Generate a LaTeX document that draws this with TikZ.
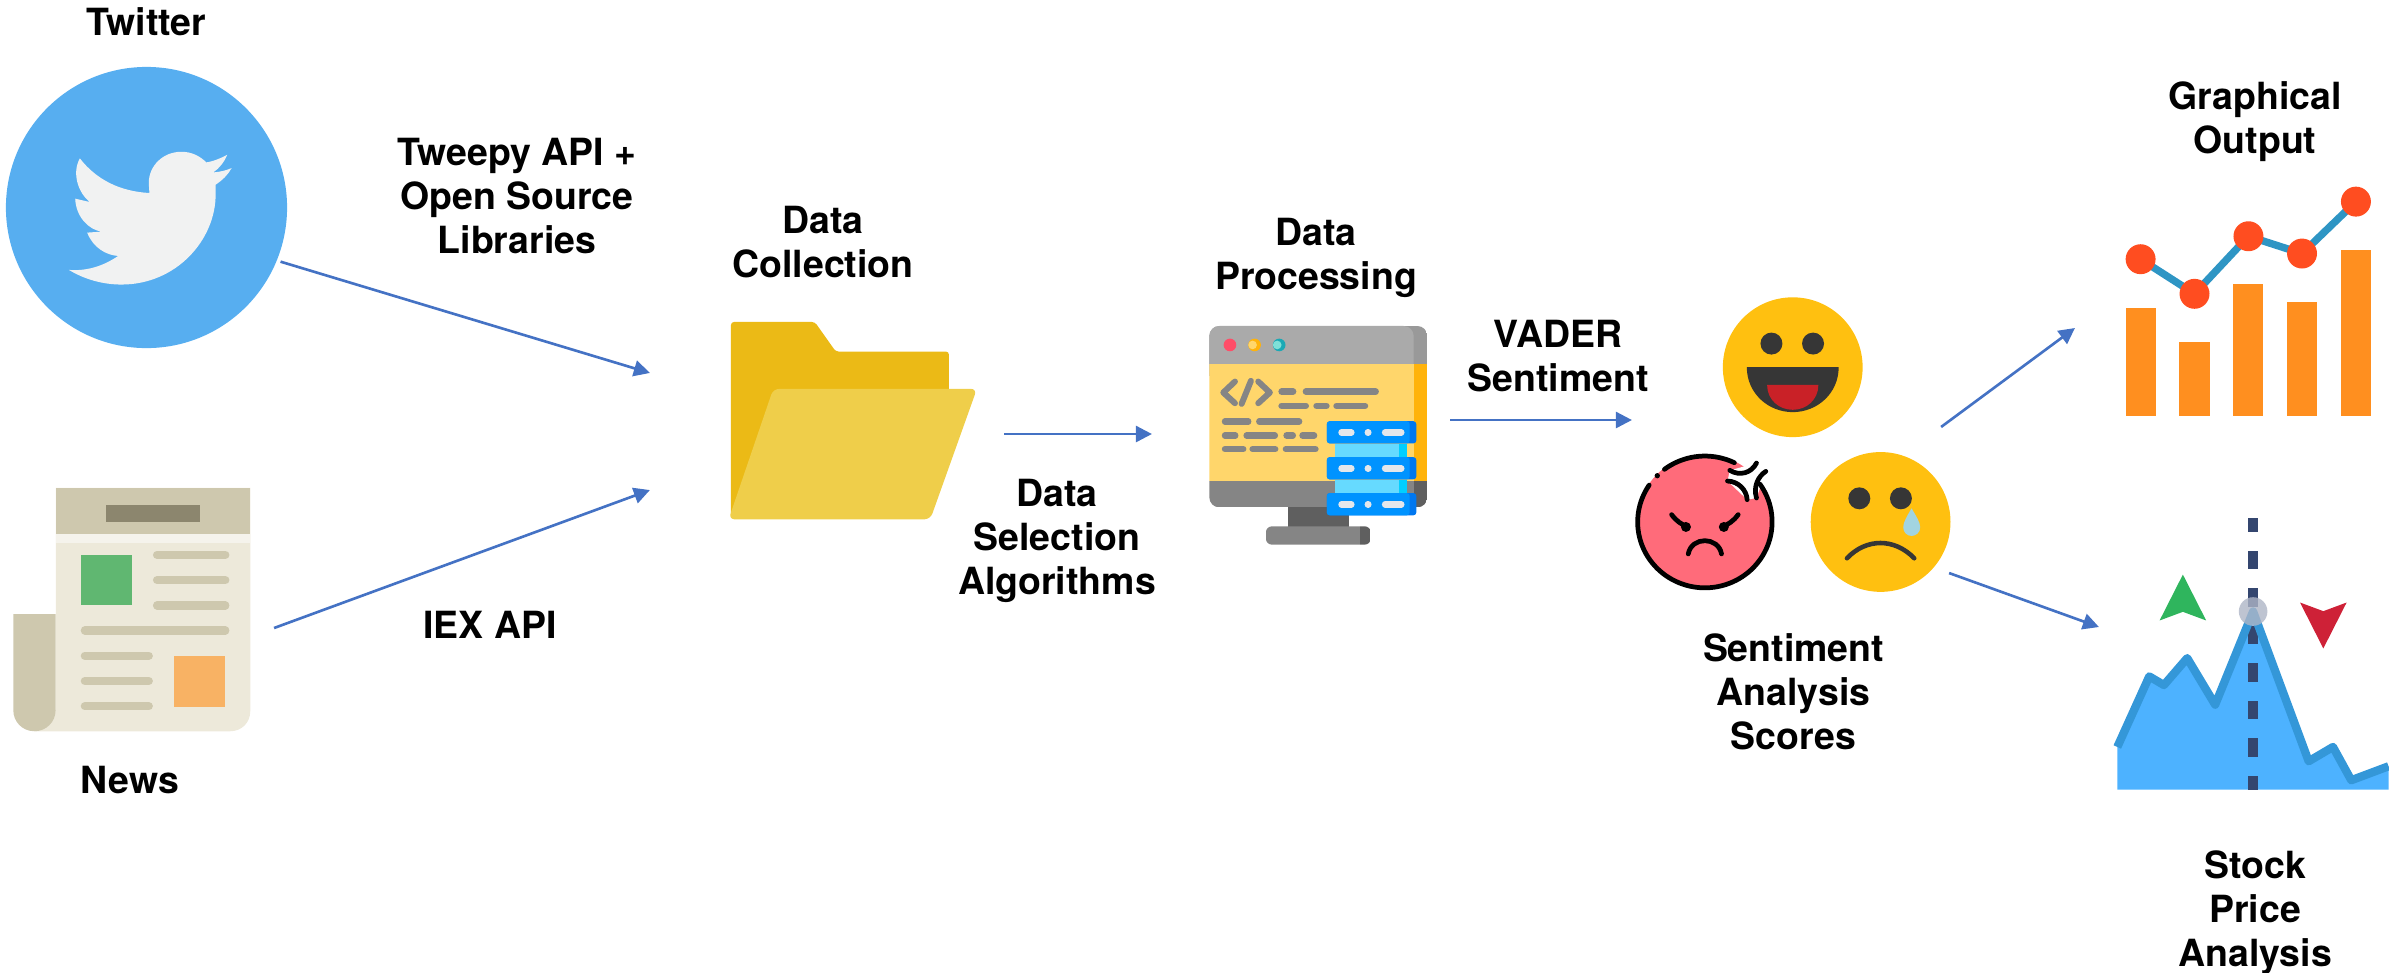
\documentclass[tikz,border=0pt]{standalone}
\usepackage{fontspec}
\setmainfont{TeX Gyre Heros}
\usepackage{tikz}
\usetikzlibrary{arrows.meta,positioning,calc}

\definecolor{arrowblue}{HTML}{4472C4}
\definecolor{twitterblue}{HTML}{57AEF0}
\definecolor{birdwhite}{HTML}{F1F2F2}
\definecolor{newsdark}{HTML}{CEC8AE}
\definecolor{newspaper}{HTML}{EDE9DA}
\definecolor{newsband}{HTML}{F5F3EC}
\definecolor{newstitle}{HTML}{8C866E}
\definecolor{newsgreen}{HTML}{60B771}
\definecolor{newsorange}{HTML}{F8B264}
\definecolor{folderback}{HTML}{EBBA16}
\definecolor{folderfront}{HTML}{EFCE4A}
\definecolor{montop}{HTML}{AAAAAA}
\definecolor{montopdark}{HTML}{999999}
\definecolor{monscreen}{HTML}{FFD66B}
\definecolor{monstrip}{HTML}{FFB30B}
\definecolor{monbase}{HTML}{858585}
\definecolor{monbasedark}{HTML}{5F5F5F}
\definecolor{monserver}{HTML}{0093FF}
\definecolor{monserverdark}{HTML}{0077F0}
\definecolor{monlink}{HTML}{66DAFF}
\definecolor{monlinkdark}{HTML}{00CFFF}
\definecolor{monpill}{HTML}{E4E7EB}
\definecolor{monred}{HTML}{FF4D68}
\definecolor{monteal}{HTML}{1BA9B5}
\definecolor{montealpale}{HTML}{7FE0D8}
\definecolor{faceyellow}{HTML}{FFC010}
\definecolor{facedark}{HTML}{363636}
\definecolor{facered}{HTML}{C92127}
\definecolor{facepink}{HTML}{FF6B7A}
\definecolor{facetear}{HTML}{A2D4E0}
\definecolor{chartbar}{HTML}{FF8F1F}
\definecolor{chartline}{HTML}{2E95C4}
\definecolor{chartdot}{HTML}{FF4D20}
\definecolor{stockarea}{HTML}{4DB2FF}
\definecolor{stockline}{HTML}{3497D8}
\definecolor{stockdash}{HTML}{34466F}
\definecolor{stockdot}{HTML}{AEB5C6}
\definecolor{stockgreen}{HTML}{2FB55D}
\definecolor{stockred}{HTML}{CE2137}

\begin{document}
\begin{tikzpicture}[
  x=0.01cm, y=-0.01cm,
  lab/.style={inner sep=0pt, outer sep=0pt, align=center, font=\fontsize{10.65}{12.5}\selectfont\bfseries},
  iconbox/.style={inner sep=0pt, outer sep=0pt},
  arr/.style={-{Triangle[length=0.16cm,width=0.16cm]}, line width=0.75pt, arrowblue},
  crop/.style={shift={(#1)}, x=0.003333cm, y=-0.003333cm},
  newsline/.style={line width=2.35pt, line cap=round, newsdark},
  codeline/.style={line width=1.8pt, line cap=round, monbase},
  pill/.style={line width=1.8pt, line cap=round, monpill},
  angry/.style={line width=1.35pt, line cap=round, black}
]
\useasboundingbox (0,0) rectangle (2389,972);

% Icon boxes
\node[iconbox, circle, fill=twitterblue, minimum size=2.81cm, outer sep=0.04cm] (twitter) at (146.5,207.5) {};
\node[iconbox, minimum width=2.61cm, minimum height=2.08cm] (news) at (143.5,628) {};
\node[iconbox, minimum width=3.54cm, minimum height=1.17cm] (folder) at (827,431.5) {};
\node[iconbox, minimum width=2.98cm, minimum height=2.19cm] (monitor) at (1301,420) {};
\node[iconbox, minimum width=3.17cm, minimum height=1.46cm] (faces) at (1790.5,500) {};
\node[iconbox, minimum width=2.96cm, minimum height=2.82cm] (chart) at (2223,328) {};
\node[iconbox, minimum width=2.90cm, minimum height=3.26cm] (stock) at (2244,627) {};

% Twitter bird
\begin{scope}[crop={0,0}]
\fill[birdwhite] (683,465) .. controls (665,475) and (640,485) .. (620,488)
  .. controls (600,468) and (575,456) .. (545,456)
  .. controls (490,456) and (447,498) .. (447,550) -- (449,580)
  .. controls (360,575) and (290,540) .. (240,476)
  .. controls (215,520) and (235,580) .. (270,607) -- (226,597)
  .. controls (228,650) and (265,690) .. (305,696) -- (262,699)
  .. controls (280,745) and (320,767) .. (355,769)
  .. controls (310,800) and (260,815) .. (207,811)
  .. controls (255,840) and (310,855) .. (365,855)
  .. controls (530,855) and (650,720) .. (648,580) -- (648,555)
  .. controls (670,540) and (685,525) .. (696,505)
  .. controls (680,512) and (660,517) .. (641,518)
  .. controls (660,505) and (675,485) .. (683,465) -- cycle;
\end{scope}

% Newspaper
\begin{scope}[crop={0,460}]
\fill[newspaper] (168,84) -- (752,84) -- (752,755) .. controls (752,790) and (725,815) .. (692,815) -- (103,815) -- (168,750) -- cycle;
\fill[newsdark] (168,84) rectangle (752,222);
\fill[newsband] (168,222) rectangle (752,248);
\fill[newstitle] (320,134) rectangle (600,185);
\fill[newsgreen] (243,286) rectangle (396,437);
\fill[newsorange] (523,588) rectangle (676,741);
\foreach \yy in {285,361,437} \draw[newsline] (472,\yy) -- (677,\yy);
\draw[newsline] (255,512) -- (677,512);
\foreach \yy in {588,664,740} \draw[newsline] (255,\yy) -- (447,\yy);
\fill[newsdark] (40,463) -- (167,463) -- (167,752) .. controls (167,787) and (139,815) .. (103,815) .. controls (68,815) and (40,787) .. (40,752) -- cycle;
\end{scope}

% Folder
\begin{scope}[crop={700,300}]
\fill[folderback, rounded corners=0.03cm] (93,640) -- (93,66) -- (345,66) -- (408,155) -- (748,155) -- (748,340) -- (93,640);
\fill[folderfront, rounded corners=0.06cm] (220,267) -- (832,267) -- (692,659) -- (86,659) -- cycle;
\end{scope}

% Monitor
\begin{scope}[crop={1190,310}]
\fill[monbasedark] (294,590) rectangle (477,652);
\begin{scope}
\clip[rounded corners=0.1cm] (58,48) rectangle (713,593);
\fill[montopdark] (58,48) rectangle (713,162);
\fill[montop, rounded corners=0.1cm] (40,48) rectangle (672,200);
\fill[monscreen] (58,162) rectangle (672,514);
\fill[monstrip] (672,162) rectangle (713,514);
\fill[monbase] (58,514) rectangle (672,593);
\fill[monbasedark] (672,514) rectangle (713,593);
\end{scope}
\begin{scope}
\clip[rounded corners=0.06cm] (228,650) rectangle (543,705);
\fill[monbase] (228,650) rectangle (512,705);
\fill[monbasedark] (512,650) rectangle (543,705);
\end{scope}
\fill[monred] (120,105) circle (19);
\fill[monstrip] (194,105) circle (19);
\fill[monscreen] (188,105) circle (13);
\fill[monteal] (268,105) circle (19);
\fill[montealpale] (262,105) circle (13);
\draw[line width=1.7pt, line cap=round, line join=round, monbase] (135,215) -- (100,248) -- (135,280);
\draw[line width=1.7pt, line cap=round, monbase] (183,213) -- (155,282);
\draw[line width=1.7pt, line cap=round, line join=round, monbase] (205,215) -- (240,248) -- (205,280);
\foreach \xa/\xb/\yy in {275/310/245, 348/558/245, 275/348/288, 380/410/288, 440/526/288,
  105/175/335, 208/328/335, 105/136/377, 170/255/377, 290/309/377, 338/373/377,
  105/160/418, 188/256/418, 288/377/418}
  \draw[codeline] (\xa,\yy) -- (\xb,\yy);
\foreach \ya in {402,510} {
  \fill[monlink] (437,\ya) rectangle (627,\ya+40);
  \fill[monlinkdark] (627,\ya) rectangle (652,\ya+40);
}
\foreach \ya in {334,442,550} {
  \fill[monserverdark, rounded corners=0.03cm] (411,\ya) rectangle (680,\ya+67);
  \fill[monserver, rounded corners=0.03cm] (411,\ya) rectangle (660,\ya+67);
  \draw[pill] (455,\ya+34) -- (485,\ya+34);
  \draw[pill] (534,\ya+34) -- (536,\ya+34);
  \draw[pill] (586,\ya+34) -- (635,\ya+34);
}
\end{scope}

% Faces
\begin{scope}[crop={1620,280}]
\fill[faceyellow] (519,262) circle (210);
\fill[facedark] (455,191) circle (33);
\fill[facedark] (580,191) circle (33);
\fill[facedark] (381,262) -- (657,262) .. controls (657,340) and (593,397) .. (519,397) .. controls (445,397) and (381,340) .. (381,262) -- cycle;
\fill[facered] (442,315) -- (596,315) .. controls (596,360) and (560,390) .. (519,390) .. controls (478,390) and (442,360) .. (442,315) -- cycle;
% angry
\fill[facepink] (255,727) circle (203);
\fill[white] (330,572) -- (410,550) -- (438,575) -- (410,655) -- (382,660) -- (323,604) -- cycle;
\draw[angry] plot[domain=35:-214, samples=80] ({255+202*cos(\x)},{727-198*sin(\x)});
\draw[angry] plot[domain=64:127, samples=30] ({255+202*cos(\x)},{727-198*sin(\x)});
\fill[black] (112,588) circle (8);
\draw[angry] (323,604) .. controls (355,605) and (380,630) .. (382,660);
\draw[angry] (330,572) .. controls (360,590) and (395,580) .. (410,550);
\draw[angry] (438,575) .. controls (415,590) and (400,620) .. (410,655);
\draw[angry] (155,705) .. controls (170,725) and (185,735) .. (205,742);
\fill[black] (198,742) circle (15);
\draw[angry] (355,705) .. controls (340,725) and (325,735) .. (305,742);
\fill[black] (312,742) circle (15);
\draw[angry] (205,823) .. controls (215,770) and (295,770) .. (305,823);
% crying
\fill[faceyellow] (783,727) circle (210);
\fill[facedark] (719,656) circle (33);
\fill[facedark] (844,656) circle (33);
\draw[facedark, line width=1.3pt, line cap=round] (682,836) .. controls (740,775) and (825,775) .. (884,836);
\fill[facetear] (876,686) .. controls (890,710) and (902,728) .. (902,743) .. controls (902,758) and (890,769) .. (876,769) .. controls (862,769) and (851,758) .. (851,743) .. controls (851,728) and (862,710) .. (876,686) -- cycle;
\end{scope}

% Bar chart
\begin{scope}[crop={2090,170}]
\foreach \xa/\xb/\yy in {108/198/414, 268/360/518, 430/521/344, 591/683/396, 753/844/240}
  \fill[chartbar] (\xa,\yy) rectangle (\xb,738);
\draw[chartline, line width=2.1pt] (152,268) -- (314,372) -- (476,199) -- (637,251) -- (799,95);
\foreach \xa/\yy in {152/268, 314/372, 476/199, 637/251, 799/95}
  \fill[chartdot] (\xa,\yy) circle (45);
\end{scope}

% Stock price
\begin{scope}[crop={2090,500}]
\fill[stockarea] (82,870) -- (82,740) -- (178,530) -- (222,556) -- (292,475) -- (376,615) -- (490,335) -- (657,785) -- (730,742) -- (785,842) -- (897,800) -- (897,870) -- cycle;
\foreach \ya/\yb in {53/96, 152/208, 265/321, 378/434, 490/546, 603/659, 716/772, 828/870}
  \fill[stockdash] (476,\ya) rectangle (504,\yb);
\draw[stockline, line width=2.35pt, line join=round] (82,742) -- (178,530) -- (222,556) -- (292,475) -- (376,615) -- (490,335) -- (657,785) -- (730,742) -- (785,842) -- (897,800);
\fill[stockdot, opacity=0.8] (490,335) circle (43);
\fill[stockgreen] (279,224) -- (349,362) -- (279,336) -- (209,362) -- cycle;
\fill[stockred] (631,308) -- (701,334) -- (771,308) -- (701,446) -- cycle;
\end{scope}

% Labels
\node[lab, above=0.27cm of twitter] (twitterlab) {Twitter};
\node[lab, below=0.34cm of news, xshift=-0.135cm] (newslab) {News};
\node[lab] (apilab) at (517,196) {Tweepy API +\\Open Source\\Libraries};
\node[lab] (iexlab) at (490,625) {IEX API};
\node[lab, above=0.95cm of folder, xshift=-0.04cm] (collectlab) {Data\\Collection};
\node[lab] (selectlab) at (1057,541) {Data\\Selection\\Algorithms};
\node[lab, above=0.13cm of monitor, xshift=0.15cm] (processlab) {Data\\Processing};
\node[lab] (vaderlab) at (1558,356) {VADER\\Sentiment};
\node[lab, below=0.61cm of faces, xshift=0.03cm] (scorelab) {Sentiment\\Analysis\\Scores};
\node[lab, above=0.25cm of chart, xshift=0.32cm] (chartlab) {Graphical\\Output};
\node[lab, below=0.61cm of stock, xshift=0.11cm] (stocklab) {Stock\\Price\\Analysis};

% Arrows
\draw[arr] (twitter.-22.6) -- (folder.north west);
\draw[arr] (news.east) -- (folder.south west);
\draw[arr] ([yshift=-0.025cm]folder.east) -- ([yshift=-0.025cm]folder.east -| monitor.west);
\draw[arr] (monitor.east) -- (monitor.east -| faces.west);
\draw[arr] ([xshift=-0.08cm]faces.north east) -- (chart.west);
\draw[arr] (faces.south east) -- (stock.west);
\end{tikzpicture}
\end{document}
